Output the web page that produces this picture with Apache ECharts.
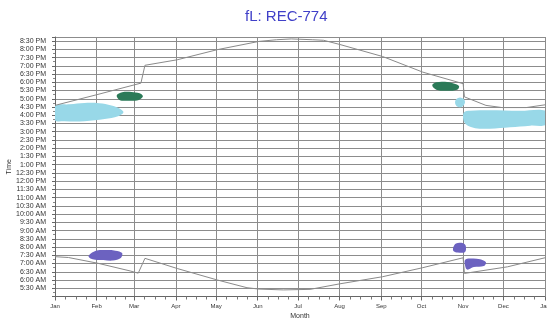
<!DOCTYPE html>
<html>
<head>
<meta charset="utf-8">
<script src="https://cdn.jsdelivr.net/npm/echarts@6/dist/echarts.min.js"></script>
<style>html,body{margin:0;padding:0;background:#fff;}#c{width:547px;height:320px;}</style>
</head>
<body>
<div id="c"></div>
<script>
// ---- data (day of year, minutes after midnight) ----
const monthNames = ['Jan','Feb','Mar','Apr','May','Jun','Jul','Aug','Sep','Oct','Nov','Dec','Jan'];
const monthStarts = [0,31,59,90,120,151,181,212,243,273,304,334,365];

const sunset = [[0,996],[32,1036],[64,1077],[67,1142],[91,1162],[121,1199],[152,1229],[165,1235],[176,1238],
  [192,1235],[200,1233],[212,1218],[244,1174],[274,1117],[304,1075],[305,1027],[321,996],[333,988],[351,988],[365,998]];
const sunrise = [[0,445],[10,442],[32,421],[56,393],[62,385],[67,439],[91,402],[121,360],[143,332],[152,327],
  [170,324],[190,326],[212,346],[244,372],[274,405],[304,441],[305,384],[337,408],[365,441]];

const cyanEarly = [[0,993],[11,1000],[22,1005],[33,1004],[42,996],[48,985],[51,971],[47,956],[37,946],[22,938],[7,938],[0,942]];
const greenEarly = [[46,1033],[50,1044],[57,1045],[63,1040],[65.5,1029],[62.5,1016],[54,1013],[48,1016]];
const greenLate = [[281,1069],[284,1080],[290.5,1082],[297,1076],[301,1066],[299.5,1053],[292,1049],[284,1053]];
const cyanDot = [[298,1007],[299,1019],[301.7,1025],[304.5,1019],[305.4,1007],[304,994],[301.7,989],[299,994]];
const cyanLate = [[304.7,971],[309,976],[324,978],[346,976],[366,975],[366,927],[354,922],[339,916],[324,911],[313,913],[306,927],[304,949]];
const purpleEarly = [[25,447],[30,466],[37,469],[45,467],[50,458],[49,440],[43,431],[36,433],[28,436]];
const purpleLateTop = [[296.5,476],[298.7,493],[304,494],[306,484],[305.4,462],[300,460],[297,465]];
const purpleLateLow = [[305.4,433],[309,438],[316.6,436],[321,425],[319.5,411],[312,407],[307,398],[305.4,414]];

const blobs = [
  {pts: cyanEarly, color: '#98d8e8'},
  {pts: cyanDot, color: '#98d8e8'},
  {pts: cyanLate, color: '#98d8e8'},
  {pts: greenEarly, color: '#2b7a58'},
  {pts: greenLate, color: '#2b7a58'},
  {pts: purpleEarly, color: '#6c62c0'},
  {pts: purpleLateTop, color: '#6c62c0'},
  {pts: purpleLateLow, color: '#6c62c0'}
];

// minor x ticks: quarter months
const quarterTicks = [];
for (let i = 0; i < monthStarts.length - 1; i++) {
  const a = monthStarts[i], b = monthStarts[i+1];
  for (let k = 1; k < 4; k++) quarterTicks.push(a + (b - a) * k / 4);
}

function fmtTime(v) {
  if (v % 30 !== 0 || v <= 300) return '';
  const h = Math.floor(v / 60), m = v % 60;
  const suf = h >= 12 ? 'PM' : 'AM';
  const h12 = (h % 12) || 12;
  return h12 + ':' + (m < 10 ? '0' : '') + m + ' ' + suf;
}

const chart = echarts.init(document.getElementById('c'), null, {renderer: 'canvas'});
const font = 'Liberation Sans, Arial, sans-serif';
const blobSeries = blobs.map(b => ({
  type: 'custom',
  coordinateSystem: 'cartesian2d',
  clip: true,
  silent: true,
  z: 3,
  data: [[b.pts[0][0], b.pts[0][1]]],
  renderItem: function (params, api) {
    return {
      type: 'polygon',
      shape: {points: b.pts.map(p => api.coord(p)), smooth: 0.35},
      style: {fill: b.color, stroke: null}
    };
  }
}));

chart.setOption({
  animation: false,
  backgroundColor: '#fff',
  title: {
    text: 'fL: REC-774', left: 240, top: 4,
    textStyle: {fontFamily: font, fontSize: 15, fontWeight: 'normal', color: '#4040c8'}
  },
  grid: {left: 55, right: 2, top: 37, bottom: 23.5, outerBoundsMode: 'none', containLabel: false},
  xAxis: [{
    type: 'value', min: 0, max: 365,
    name: 'Month', nameLocation: 'middle', nameGap: 16, nameMoveOverlap: false,
    nameTextStyle: {fontFamily: font, fontSize: 7, color: '#333'},
    axisLine: {show: true, lineStyle: {color: '#666', width: 1}},
    axisTick: {show: true, customValues: monthStarts, length: 4, lineStyle: {color: '#666'}},
    axisLabel: {customValues: monthStarts, fontFamily: font, fontSize: 6, color: '#333', margin: 7,
      formatter: v => monthNames[monthStarts.indexOf(Math.round(v))] || ''},
    splitLine: {show: true, lineStyle: {color: '#8c8c8c', width: 1}}
  }, {
    type: 'value', min: 0, max: 365, position: 'bottom',
    axisLine: {show: false},
    axisTick: {show: true, customValues: quarterTicks, length: 3, lineStyle: {color: '#777'}},
    axisLabel: {show: false},
    splitLine: {show: false}
  }],
  yAxis: [{
    type: 'value', min: 300, max: 1245, interval: 30,
    name: 'Time', nameLocation: 'middle', nameGap: 42, nameRotate: 90, nameMoveOverlap: false,
    nameTextStyle: {fontFamily: font, fontSize: 7, color: '#333'},
    axisLine: {show: true, lineStyle: {color: '#666', width: 1}},
    axisTick: {show: true, length: 3, lineStyle: {color: '#666'}},
    minorTick: {show: true, splitNumber: 2, length: 2, lineStyle: {color: '#888'}},
    axisLabel: {fontFamily: font, fontSize: 7, color: '#333', margin: 9, formatter: fmtTime},
    splitLine: {show: true, lineStyle: {color: '#8c8c8c', width: 1}}
  }],
  series: [
    ...blobSeries,
    {type: 'line', data: sunset, symbol: 'none', z: 4, silent: true,
      lineStyle: {color: '#8a8a8a', width: 1}},
    {type: 'line', data: sunrise, symbol: 'none', z: 4, silent: true,
      lineStyle: {color: '#8a8a8a', width: 1}}
  ]
});
</script>
</body>
</html>
